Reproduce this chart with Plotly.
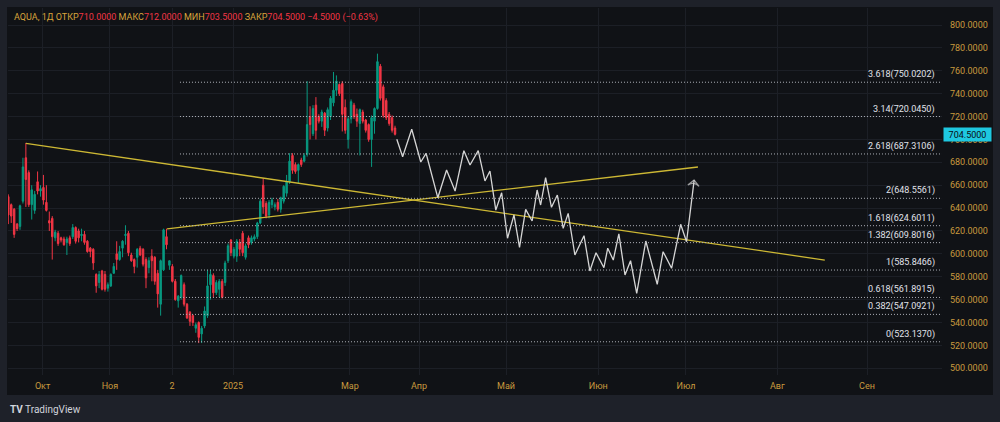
import plotly.graph_objects as go

# ---------------- data ----------------
opens = [650, 643, 639, 626, 624, 646, 684, 671, 643, 638, 663, 655, 658, 645, 629, 631, 614, 618, 614, 613,
         610, 614, 615, 623, 620, 616, 617, 611, 605, 604, 582, 575, 585,
         582, 570, 572, 583, 600, 595, 605, 616, 618, 599, 595, 597, 605, 604, 595, 588, 598, 597, 583, 556,
         586, 615, 590, 589, 576, 559, 562, 573, 556, 549, 546, 535, 540,
         530, 537, 546, 573, 581, 566, 569, 576, 575, 594, 612, 598, 598, 610, 618, 597, 614, 610, 613, 615,
         627, 660, 644, 634, 643, 641, 645, 639, 646, 653, 663, 686, 678, 673, 682, 681,
         687, 720, 705, 730, 720, 716, 723, 710, 720, 732, 743, 748, 749, 728, 700, 718, 730, 722, 714, 724,
         717, 713, 700, 716, 727, 764, 746, 734, 722, 719, 710]
highs = [652, 644, 640, 627, 643, 684, 697, 673, 660, 655, 672, 660, 669, 660, 637, 633, 621, 620, 615, 615,
         615, 616, 626, 624, 622, 622, 620, 612, 606, 605, 583, 585, 586,
         585, 575, 583, 592, 611, 607, 612, 625, 620, 601, 596, 605, 607, 605, 597, 597, 604, 598, 586, 595,
         622, 622, 594, 591, 578, 564, 582, 575, 557, 550, 547, 540, 541,
         537, 554, 586, 586, 583, 577, 578, 578, 594, 609, 613, 606, 613, 613, 620, 609, 616, 616, 617, 628,
         648, 666, 646, 647, 649, 645, 648, 650, 660, 669, 688, 688, 680, 679, 684, 688,
         751, 729, 730, 737, 722, 726, 724, 728, 738, 759, 756, 749, 751, 735, 720, 735, 732, 727, 727, 726,
         718, 714, 721, 728, 775, 766, 748, 736, 724, 721, 712]
lows = [626, 627, 614, 620, 621, 644, 641, 641, 630, 635, 652, 650, 643, 637, 620, 595, 611, 607, 610, 607,
        599, 607, 613, 609, 610, 611, 608, 601, 597, 586, 566, 570, 568,
        567, 567, 571, 583, 586, 594, 597, 608, 598, 593, 583, 588, 598, 589, 570, 583, 576, 573, 553, 546,
        585, 604, 586, 575, 559, 553, 560, 554, 543, 537, 537, 531, 522,
        522, 535, 544, 560, 562, 564, 562, 561, 572, 592, 598, 596, 593, 598, 598, 595, 605, 608, 611, 613,
        626, 635, 631, 631, 640, 638, 637, 636, 644, 650, 661, 670, 670, 662, 676, 680,
        685, 700, 703, 700, 714, 711, 703, 707, 717, 729, 738, 738, 707, 705, 692, 714, 718, 711, 686, 714,
        706, 698, 676, 705, 726, 734, 719, 717, 712, 706, 703.5]
closes = [634, 633, 617, 622, 642, 676, 665, 643, 656, 652, 655, 657, 647, 638, 627, 615, 619, 609, 612, 608,
          613, 609, 623, 611, 614, 617, 610, 602, 602, 592, 572, 582, 569,
          569, 573, 582, 589, 595, 602, 611, 617, 601, 594, 589, 604, 599, 591, 579, 594, 594, 576, 565, 594,
          621, 608, 594, 576, 560, 563, 581, 556, 544, 541, 540, 538, 527,
          535, 550, 572, 582, 566, 575, 576, 562, 592, 607, 601, 604, 611, 604, 601, 607, 608, 614, 615, 627,
          646, 641, 633, 645, 647, 643, 639, 649, 659, 663, 681, 673, 672, 678, 678, 686,
          713, 713, 727, 708, 716, 724, 708, 726, 736, 743, 751, 740, 722, 708, 718, 733, 720, 716, 726, 716,
          708, 700, 719, 727, 768, 736, 721, 719, 714, 708, 704.5]
bar_index = list(range(len(closes)))

# projected path (bar index, price)
proj_x = [132.6, 134.6, 137.7, 140.8, 142.6, 146.6, 149.6, 152.5, 155.5, 157.6, 160.4, 162.7, 164.4,
          166.4, 168.4, 170.4, 172.6, 174.5, 176.6, 178.8, 180.5, 181.7, 183.4, 185.4, 187.4, 189.4,
          191.1, 193.4, 196.5, 198.5, 200.6, 203.3, 204.6, 206.5, 208.4, 210.5, 212.4, 214.5, 217.6,
          221.5, 223.5, 226.4, 229.5, 231.5, 234.1]
proj_y = [700.1, 684.9, 708.9, 680.3, 687.9, 649.1, 673.3, 654.9, 690.2, 677.7, 690.2, 663.7, 672.4,
          638.3, 653.4, 613.6, 634.0, 605.7, 638.9, 628.7, 655.8, 642.7, 666.6, 640.7, 651.4, 622.3,
          635.4, 599.0, 615.9, 585.0, 601.0, 587.9, 604.9, 594.6, 617.4, 581.5, 594.0, 565.5, 611.2,
          573.4, 601.9, 587.4, 625.8, 610.6, 664.5]

trend1_x = [6, 278.7]
trend1_y = [696.5, 594.6]
trend2_x = [54.2, 235.4]
trend2_y = [621.9, 675.9]

fib_ratios = ["3.618", "3.14", "2.618", "2", "1.618", "1.382", "1", "0.618", "0.382", "0"]
fib_levels = [750.0202, 720.0450, 687.3106, 648.5561, 624.6011, 609.8016, 585.8466, 561.8915, 547.0921, 523.1370]
fib_start = 58.6

month_labels = ["Окт", "Ноя", "2", "2025", "Мар", "Апр", "Май", "Июн", "Июл", "Авг", "Сен"]
month_pos = [11.7, 34.7, 55.9, 76.7, 116.6, 140.2, 169.9, 201.4, 231.3, 262.5, 293.1]

last_price = 704.5
header = [("AQUA, 1Д", None), (" ОТКР", None), ("710.0000", "v"), (" МАКС", None), ("712.0000", "v"),
          (" МИН", None), ("703.5000", "v"), (" ЗАКР", None), ("704.5000", "v"), (" −4.5000 (−0.63%)", "v")]

# ---------------- style ----------------
FRAME = "#1e2129"
PANEL = "#101216"
GRID = "#1c1f26"
GOLD = "#c99a3e"
UP = "#089981"
DOWN = "#f23645"
YELLOW = "#cdb834"
XMIN, XMAX = -0.1, 318.7
YMIN, YMAX = 494.1, 814.9

fig = go.Figure()

fig.add_trace(go.Candlestick(
    x=bar_index, open=opens, high=highs, low=lows, close=closes,
    increasing=dict(line=dict(color=UP, width=1), fillcolor=UP),
    decreasing=dict(line=dict(color=DOWN, width=1), fillcolor=DOWN),
    hoverinfo="skip", showlegend=False,
))

for lv in fib_levels:
    fig.add_shape(type="line", xref="x", yref="y", x0=fib_start, x1=XMAX, y0=lv, y1=lv,
                  line=dict(color="#b0b3ba", width=1, dash="1px,2px"))

fig.add_trace(go.Scatter(x=trend1_x, y=trend1_y, mode="lines",
                         line=dict(color=YELLOW, width=1.3), hoverinfo="skip", showlegend=False))
fig.add_trace(go.Scatter(x=trend2_x, y=trend2_y, mode="lines",
                         line=dict(color=YELLOW, width=1.3), hoverinfo="skip", showlegend=False))

fig.add_trace(go.Scatter(x=proj_x, y=proj_y, mode="lines",
                         line=dict(color="#d6d6d6", width=1.3), hoverinfo="skip", showlegend=False))
fig.add_trace(go.Scatter(x=proj_x[-2:], y=proj_y[-2:], mode="markers",
                         marker=dict(symbol=["circle", "arrow-wide-open"], size=[0, 8], angleref="previous",
                                     color="#d6d6d6", line=dict(color="#d6d6d6", width=1.3)),
                         hoverinfo="skip", showlegend=False))

for r, lv in zip(fib_ratios, fib_levels):
    fig.add_annotation(x=317.0, y=lv, xref="x", yref="y", text=f"{r}({lv:.4f})", showarrow=False,
                       xanchor="right", yanchor="bottom", yshift=0,
                       font=dict(family="Roboto", size=9, color="#e0e3eb"))

# header
parts = []
for txt, kind in header:
    col = DOWN if kind == "v" else "#d9a43c"
    parts.append(f"<span style='color:{col}'>{txt.replace(' ', '&nbsp;')}</span>")
fig.add_annotation(x=(12 - 8) / 934, y=(375 - 17) / 367, xref="paper", yref="paper", text="".join(parts),
                   showarrow=False, xanchor="left", yanchor="middle",
                   font=dict(family="Roboto", size=9, color="#d9a43c"))

# last price box
fig.add_annotation(x=1 + 1 / 934, y=last_price, xref="paper", yref="y", text=f"{last_price:.4f}",
                   showarrow=False, xanchor="left", yanchor="middle", bgcolor="#1ec8e0",
                   width=45, height=11, font=dict(family="Roboto", size=9, color="#0b0d10"))

# TradingView logo text
fig.add_annotation(x=(8 - 8) / 934, y=(375 - 409) / 367, xref="paper", yref="paper",
                   text="<b>TV</b> TradingView", showarrow=False, xanchor="left", yanchor="middle",
                   font=dict(family="Roboto", size=10, color="#d1d4dc"))

# panel background
fig.add_shape(type="rect", xref="paper", yref="paper", x0=(7 - 8) / 934, x1=(993 - 8) / 934,
              y0=(375 - 395) / 367, y1=(375 - 7) / 367, fillcolor=PANEL, line=dict(width=0), layer="below")

fig.update_layout(
    width=1000, height=422,
    margin=dict(l=8, r=58, t=8, b=47),
    paper_bgcolor=FRAME, plot_bgcolor=PANEL,
    showlegend=False,
    xaxis=dict(range=[XMIN, XMAX], tickmode="array", tickvals=month_pos, ticktext=month_labels,
               showgrid=True, gridcolor=GRID, gridwidth=1, zeroline=False, showline=False,
               rangeslider=dict(visible=False), ticks="", ticklabelstandoff=4,
               tickfont=dict(family="Roboto", size=9, color=GOLD)),
    yaxis=dict(range=[YMIN, YMAX], side="right", dtick=20, tick0=0, tickformat=".4f",
               showgrid=True, gridcolor=GRID, gridwidth=1, zeroline=False, showline=False,
               ticks="", ticklabelstandoff=7,
               tickfont=dict(family="Roboto", size=9, color=GOLD)),
)

fig.write_html("out.html", config={"displayModeBar": False})
